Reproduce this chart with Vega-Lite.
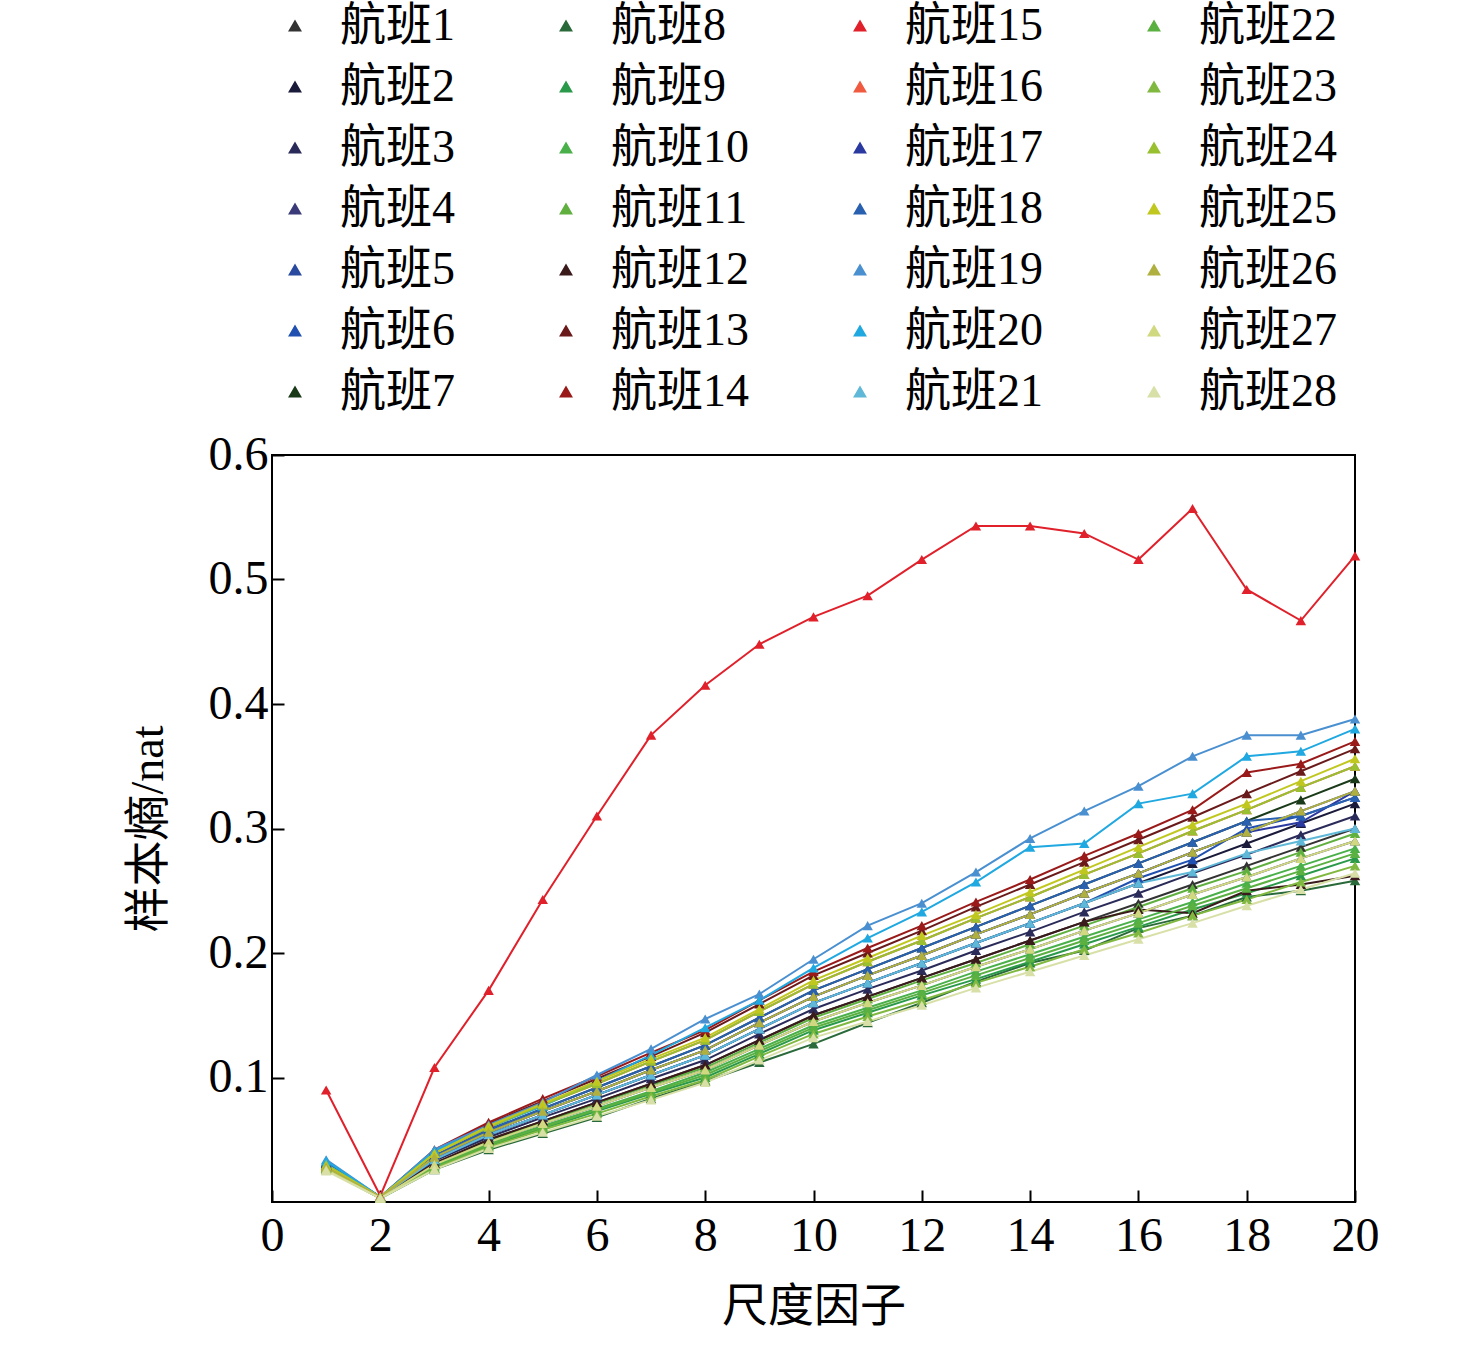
{
  "$schema": "https://vega.github.io/schema/vega-lite/v6.json",
  "width": 1083,
  "height": 747,
  "autosize": "none",
  "padding": {"left": 272, "top": 455, "right": 121, "bottom": 160},
  "background": "white",
  "config": {
    "font": "Liberation Serif, Noto Sans CJK SC",
    "view": {"stroke": "black", "strokeWidth": 2}
  },
  "data": {"values": [
{"s":1,"x":1,"y":0.030},{"s":1,"x":2,"y":0.004},{"s":1,"x":3,"y":0.031},{"s":1,"x":4,"y":0.050},{"s":1,"x":5,"y":0.065},{"s":1,"x":6,"y":0.080},{"s":1,"x":7,"y":0.095},{"s":1,"x":8,"y":0.110},{"s":1,"x":9,"y":0.130},{"s":1,"x":10,"y":0.150},{"s":1,"x":11,"y":0.165},{"s":1,"x":12,"y":0.180},{"s":1,"x":13,"y":0.195},{"s":1,"x":14,"y":0.210},{"s":1,"x":15,"y":0.225},{"s":1,"x":16,"y":0.240},{"s":1,"x":17,"y":0.255},{"s":1,"x":18,"y":0.270},{"s":1,"x":19,"y":0.285},{"s":1,"x":20,"y":0.300},
{"s":2,"x":1,"y":0.028},{"s":2,"x":2,"y":0.004},{"s":2,"x":3,"y":0.034},{"s":2,"x":4,"y":0.054},{"s":2,"x":5,"y":0.070},{"s":2,"x":6,"y":0.086},{"s":2,"x":7,"y":0.102},{"s":2,"x":8,"y":0.118},{"s":2,"x":9,"y":0.139},{"s":2,"x":10,"y":0.160},{"s":2,"x":11,"y":0.176},{"s":2,"x":12,"y":0.192},{"s":2,"x":13,"y":0.208},{"s":2,"x":14,"y":0.224},{"s":2,"x":15,"y":0.240},{"s":2,"x":16,"y":0.256},{"s":2,"x":17,"y":0.272},{"s":2,"x":18,"y":0.288},{"s":2,"x":19,"y":0.304},{"s":2,"x":20,"y":0.320},
{"s":3,"x":1,"y":0.030},{"s":3,"x":2,"y":0.004},{"s":3,"x":3,"y":0.033},{"s":3,"x":4,"y":0.052},{"s":3,"x":5,"y":0.068},{"s":3,"x":6,"y":0.083},{"s":3,"x":7,"y":0.099},{"s":3,"x":8,"y":0.114},{"s":3,"x":9,"y":0.135},{"s":3,"x":10,"y":0.155},{"s":3,"x":11,"y":0.171},{"s":3,"x":12,"y":0.186},{"s":3,"x":13,"y":0.202},{"s":3,"x":14,"y":0.217},{"s":3,"x":15,"y":0.233},{"s":3,"x":16,"y":0.248},{"s":3,"x":17,"y":0.264},{"s":3,"x":18,"y":0.279},{"s":3,"x":19,"y":0.295},{"s":3,"x":20,"y":0.310},
{"s":4,"x":1,"y":0.027},{"s":4,"x":2,"y":0.004},{"s":4,"x":3,"y":0.030},{"s":4,"x":4,"y":0.048},{"s":4,"x":5,"y":0.063},{"s":4,"x":6,"y":0.077},{"s":4,"x":7,"y":0.092},{"s":4,"x":8,"y":0.106},{"s":4,"x":9,"y":0.126},{"s":4,"x":10,"y":0.145},{"s":4,"x":11,"y":0.160},{"s":4,"x":12,"y":0.174},{"s":4,"x":13,"y":0.189},{"s":4,"x":14,"y":0.203},{"s":4,"x":15,"y":0.218},{"s":4,"x":16,"y":0.232},{"s":4,"x":17,"y":0.247},{"s":4,"x":18,"y":0.261},{"s":4,"x":19,"y":0.276},{"s":4,"x":20,"y":0.290},
{"s":5,"x":1,"y":0.032},{"s":5,"x":2,"y":0.004},{"s":5,"x":3,"y":0.036},{"s":5,"x":4,"y":0.056},{"s":5,"x":5,"y":0.073},{"s":5,"x":6,"y":0.089},{"s":5,"x":7,"y":0.106},{"s":5,"x":8,"y":0.122},{"s":5,"x":9,"y":0.144},{"s":5,"x":10,"y":0.165},{"s":5,"x":11,"y":0.182},{"s":5,"x":12,"y":0.198},{"s":5,"x":13,"y":0.215},{"s":5,"x":14,"y":0.231},{"s":5,"x":15,"y":0.248},{"s":5,"x":16,"y":0.264},{"s":5,"x":17,"y":0.281},{"s":5,"x":18,"y":0.297},{"s":5,"x":19,"y":0.314},{"s":5,"x":20,"y":0.330},
{"s":6,"x":1,"y":0.031},{"s":6,"x":2,"y":0.004},{"s":6,"x":3,"y":0.034},{"s":6,"x":4,"y":0.054},{"s":6,"x":5,"y":0.070},{"s":6,"x":6,"y":0.086},{"s":6,"x":7,"y":0.102},{"s":6,"x":8,"y":0.118},{"s":6,"x":9,"y":0.139},{"s":6,"x":10,"y":0.160},{"s":6,"x":11,"y":0.176},{"s":6,"x":12,"y":0.192},{"s":6,"x":13,"y":0.208},{"s":6,"x":14,"y":0.224},{"s":6,"x":15,"y":0.240},{"s":6,"x":16,"y":0.260},{"s":6,"x":17,"y":0.275},{"s":6,"x":18,"y":0.300},{"s":6,"x":19,"y":0.310},{"s":6,"x":20,"y":0.325},
{"s":7,"x":1,"y":0.029},{"s":7,"x":2,"y":0.004},{"s":7,"x":3,"y":0.037},{"s":7,"x":4,"y":0.058},{"s":7,"x":5,"y":0.075},{"s":7,"x":6,"y":0.092},{"s":7,"x":7,"y":0.109},{"s":7,"x":8,"y":0.126},{"s":7,"x":9,"y":0.148},{"s":7,"x":10,"y":0.170},{"s":7,"x":11,"y":0.187},{"s":7,"x":12,"y":0.204},{"s":7,"x":13,"y":0.221},{"s":7,"x":14,"y":0.238},{"s":7,"x":15,"y":0.255},{"s":7,"x":16,"y":0.272},{"s":7,"x":17,"y":0.289},{"s":7,"x":18,"y":0.306},{"s":7,"x":19,"y":0.323},{"s":7,"x":20,"y":0.340},
{"s":8,"x":1,"y":0.026},{"s":8,"x":2,"y":0.003},{"s":8,"x":3,"y":0.026},{"s":8,"x":4,"y":0.042},{"s":8,"x":5,"y":0.055},{"s":8,"x":6,"y":0.068},{"s":8,"x":7,"y":0.083},{"s":8,"x":8,"y":0.097},{"s":8,"x":9,"y":0.112},{"s":8,"x":10,"y":0.127},{"s":8,"x":11,"y":0.144},{"s":8,"x":12,"y":0.160},{"s":8,"x":13,"y":0.177},{"s":8,"x":14,"y":0.192},{"s":8,"x":15,"y":0.202},{"s":8,"x":16,"y":0.220},{"s":8,"x":17,"y":0.230},{"s":8,"x":18,"y":0.245},{"s":8,"x":19,"y":0.250},{"s":8,"x":20,"y":0.258},
{"s":9,"x":1,"y":0.028},{"s":9,"x":2,"y":0.003},{"s":9,"x":3,"y":0.027},{"s":9,"x":4,"y":0.045},{"s":9,"x":5,"y":0.059},{"s":9,"x":6,"y":0.073},{"s":9,"x":7,"y":0.087},{"s":9,"x":8,"y":0.100},{"s":9,"x":9,"y":0.119},{"s":9,"x":10,"y":0.138},{"s":9,"x":11,"y":0.152},{"s":9,"x":12,"y":0.166},{"s":9,"x":13,"y":0.179},{"s":9,"x":14,"y":0.193},{"s":9,"x":15,"y":0.207},{"s":9,"x":16,"y":0.221},{"s":9,"x":17,"y":0.235},{"s":9,"x":18,"y":0.248},{"s":9,"x":19,"y":0.262},{"s":9,"x":20,"y":0.276},
{"s":10,"x":1,"y":0.030},{"s":10,"x":2,"y":0.004},{"s":10,"x":3,"y":0.029},{"s":10,"x":4,"y":0.047},{"s":10,"x":5,"y":0.061},{"s":10,"x":6,"y":0.075},{"s":10,"x":7,"y":0.089},{"s":10,"x":8,"y":0.104},{"s":10,"x":9,"y":0.123},{"s":10,"x":10,"y":0.142},{"s":10,"x":11,"y":0.156},{"s":10,"x":12,"y":0.170},{"s":10,"x":13,"y":0.185},{"s":10,"x":14,"y":0.199},{"s":10,"x":15,"y":0.213},{"s":10,"x":16,"y":0.227},{"s":10,"x":17,"y":0.241},{"s":10,"x":18,"y":0.256},{"s":10,"x":19,"y":0.270},{"s":10,"x":20,"y":0.284},
{"s":11,"x":1,"y":0.027},{"s":11,"x":2,"y":0.004},{"s":11,"x":3,"y":0.030},{"s":11,"x":4,"y":0.049},{"s":11,"x":5,"y":0.064},{"s":11,"x":6,"y":0.079},{"s":11,"x":7,"y":0.094},{"s":11,"x":8,"y":0.108},{"s":11,"x":9,"y":0.128},{"s":11,"x":10,"y":0.148},{"s":11,"x":11,"y":0.163},{"s":11,"x":12,"y":0.178},{"s":11,"x":13,"y":0.192},{"s":11,"x":14,"y":0.207},{"s":11,"x":15,"y":0.222},{"s":11,"x":16,"y":0.237},{"s":11,"x":17,"y":0.252},{"s":11,"x":18,"y":0.266},{"s":11,"x":19,"y":0.281},{"s":11,"x":20,"y":0.296},
{"s":12,"x":1,"y":0.030},{"s":12,"x":2,"y":0.004},{"s":12,"x":3,"y":0.031},{"s":12,"x":4,"y":0.050},{"s":12,"x":5,"y":0.065},{"s":12,"x":6,"y":0.080},{"s":12,"x":7,"y":0.095},{"s":12,"x":8,"y":0.110},{"s":12,"x":9,"y":0.130},{"s":12,"x":10,"y":0.150},{"s":12,"x":11,"y":0.165},{"s":12,"x":12,"y":0.180},{"s":12,"x":13,"y":0.195},{"s":12,"x":14,"y":0.210},{"s":12,"x":15,"y":0.225},{"s":12,"x":16,"y":0.235},{"s":12,"x":17,"y":0.232},{"s":12,"x":18,"y":0.250},{"s":12,"x":19,"y":0.255},{"s":12,"x":20,"y":0.262},
{"s":13,"x":1,"y":0.031},{"s":13,"x":2,"y":0.004},{"s":13,"x":3,"y":0.041},{"s":13,"x":4,"y":0.063},{"s":13,"x":5,"y":0.081},{"s":13,"x":6,"y":0.099},{"s":13,"x":7,"y":0.117},{"s":13,"x":8,"y":0.136},{"s":13,"x":9,"y":0.159},{"s":13,"x":10,"y":0.182},{"s":13,"x":11,"y":0.200},{"s":13,"x":12,"y":0.218},{"s":13,"x":13,"y":0.237},{"s":13,"x":14,"y":0.255},{"s":13,"x":15,"y":0.273},{"s":13,"x":16,"y":0.291},{"s":13,"x":17,"y":0.309},{"s":13,"x":18,"y":0.328},{"s":13,"x":19,"y":0.346},{"s":13,"x":20,"y":0.364},
{"s":14,"x":1,"y":0.030},{"s":14,"x":2,"y":0.004},{"s":14,"x":3,"y":0.042},{"s":14,"x":4,"y":0.064},{"s":14,"x":5,"y":0.083},{"s":14,"x":6,"y":0.101},{"s":14,"x":7,"y":0.120},{"s":14,"x":8,"y":0.138},{"s":14,"x":9,"y":0.162},{"s":14,"x":10,"y":0.185},{"s":14,"x":11,"y":0.204},{"s":14,"x":12,"y":0.222},{"s":14,"x":13,"y":0.241},{"s":14,"x":14,"y":0.259},{"s":14,"x":15,"y":0.278},{"s":14,"x":16,"y":0.296},{"s":14,"x":17,"y":0.315},{"s":14,"x":18,"y":0.345},{"s":14,"x":19,"y":0.352},{"s":14,"x":20,"y":0.370},
{"s":15,"x":1,"y":0.090},{"s":15,"x":2,"y":0.005},{"s":15,"x":3,"y":0.108},{"s":15,"x":4,"y":0.170},{"s":15,"x":5,"y":0.243},{"s":15,"x":6,"y":0.310},{"s":15,"x":7,"y":0.375},{"s":15,"x":8,"y":0.415},{"s":15,"x":9,"y":0.448},{"s":15,"x":10,"y":0.470},{"s":15,"x":11,"y":0.487},{"s":15,"x":12,"y":0.516},{"s":15,"x":13,"y":0.543},{"s":15,"x":14,"y":0.543},{"s":15,"x":15,"y":0.537},{"s":15,"x":16,"y":0.516},{"s":15,"x":17,"y":0.557},{"s":15,"x":18,"y":0.492},{"s":15,"x":19,"y":0.467},{"s":15,"x":20,"y":0.519},
{"s":16,"x":1,"y":0.029},{"s":16,"x":2,"y":0.004},{"s":16,"x":3,"y":0.039},{"s":16,"x":4,"y":0.060},{"s":16,"x":5,"y":0.078},{"s":16,"x":6,"y":0.095},{"s":16,"x":7,"y":0.113},{"s":16,"x":8,"y":0.130},{"s":16,"x":9,"y":0.153},{"s":16,"x":10,"y":0.175},{"s":16,"x":11,"y":0.193},{"s":16,"x":12,"y":0.210},{"s":16,"x":13,"y":0.228},{"s":16,"x":14,"y":0.245},{"s":16,"x":15,"y":0.263},{"s":16,"x":16,"y":0.280},{"s":16,"x":17,"y":0.298},{"s":16,"x":18,"y":0.315},{"s":16,"x":19,"y":0.333},{"s":16,"x":20,"y":0.350},
{"s":17,"x":1,"y":0.031},{"s":17,"x":2,"y":0.004},{"s":17,"x":3,"y":0.036},{"s":17,"x":4,"y":0.056},{"s":17,"x":5,"y":0.073},{"s":17,"x":6,"y":0.089},{"s":17,"x":7,"y":0.106},{"s":17,"x":8,"y":0.122},{"s":17,"x":9,"y":0.144},{"s":17,"x":10,"y":0.165},{"s":17,"x":11,"y":0.182},{"s":17,"x":12,"y":0.198},{"s":17,"x":13,"y":0.215},{"s":17,"x":14,"y":0.231},{"s":17,"x":15,"y":0.248},{"s":17,"x":16,"y":0.264},{"s":17,"x":17,"y":0.281},{"s":17,"x":18,"y":0.297},{"s":17,"x":19,"y":0.305},{"s":17,"x":20,"y":0.330},
{"s":18,"x":1,"y":0.032},{"s":18,"x":2,"y":0.004},{"s":18,"x":3,"y":0.037},{"s":18,"x":4,"y":0.058},{"s":18,"x":5,"y":0.075},{"s":18,"x":6,"y":0.092},{"s":18,"x":7,"y":0.109},{"s":18,"x":8,"y":0.126},{"s":18,"x":9,"y":0.148},{"s":18,"x":10,"y":0.170},{"s":18,"x":11,"y":0.187},{"s":18,"x":12,"y":0.204},{"s":18,"x":13,"y":0.221},{"s":18,"x":14,"y":0.238},{"s":18,"x":15,"y":0.255},{"s":18,"x":16,"y":0.272},{"s":18,"x":17,"y":0.289},{"s":18,"x":18,"y":0.306},{"s":18,"x":19,"y":0.310},{"s":18,"x":20,"y":0.325},
{"s":19,"x":1,"y":0.034},{"s":19,"x":2,"y":0.004},{"s":19,"x":3,"y":0.042},{"s":19,"x":4,"y":0.062},{"s":19,"x":5,"y":0.080},{"s":19,"x":6,"y":0.102},{"s":19,"x":7,"y":0.123},{"s":19,"x":8,"y":0.147},{"s":19,"x":9,"y":0.167},{"s":19,"x":10,"y":0.195},{"s":19,"x":11,"y":0.222},{"s":19,"x":12,"y":0.240},{"s":19,"x":13,"y":0.265},{"s":19,"x":14,"y":0.292},{"s":19,"x":15,"y":0.314},{"s":19,"x":16,"y":0.334},{"s":19,"x":17,"y":0.358},{"s":19,"x":18,"y":0.375},{"s":19,"x":19,"y":0.375},{"s":19,"x":20,"y":0.388},
{"s":20,"x":1,"y":0.033},{"s":20,"x":2,"y":0.004},{"s":20,"x":3,"y":0.041},{"s":20,"x":4,"y":0.060},{"s":20,"x":5,"y":0.077},{"s":20,"x":6,"y":0.097},{"s":20,"x":7,"y":0.118},{"s":20,"x":8,"y":0.140},{"s":20,"x":9,"y":0.162},{"s":20,"x":10,"y":0.188},{"s":20,"x":11,"y":0.212},{"s":20,"x":12,"y":0.233},{"s":20,"x":13,"y":0.257},{"s":20,"x":14,"y":0.285},{"s":20,"x":15,"y":0.288},{"s":20,"x":16,"y":0.320},{"s":20,"x":17,"y":0.328},{"s":20,"x":18,"y":0.358},{"s":20,"x":19,"y":0.362},{"s":20,"x":20,"y":0.380},
{"s":21,"x":1,"y":0.030},{"s":21,"x":2,"y":0.004},{"s":21,"x":3,"y":0.034},{"s":21,"x":4,"y":0.054},{"s":21,"x":5,"y":0.070},{"s":21,"x":6,"y":0.086},{"s":21,"x":7,"y":0.102},{"s":21,"x":8,"y":0.118},{"s":21,"x":9,"y":0.139},{"s":21,"x":10,"y":0.160},{"s":21,"x":11,"y":0.176},{"s":21,"x":12,"y":0.192},{"s":21,"x":13,"y":0.208},{"s":21,"x":14,"y":0.224},{"s":21,"x":15,"y":0.240},{"s":21,"x":16,"y":0.256},{"s":21,"x":17,"y":0.265},{"s":21,"x":18,"y":0.280},{"s":21,"x":19,"y":0.290},{"s":21,"x":20,"y":0.300},
{"s":22,"x":1,"y":0.028},{"s":22,"x":2,"y":0.003},{"s":22,"x":3,"y":0.028},{"s":22,"x":4,"y":0.046},{"s":22,"x":5,"y":0.060},{"s":22,"x":6,"y":0.074},{"s":22,"x":7,"y":0.088},{"s":22,"x":8,"y":0.102},{"s":22,"x":9,"y":0.121},{"s":22,"x":10,"y":0.140},{"s":22,"x":11,"y":0.154},{"s":22,"x":12,"y":0.168},{"s":22,"x":13,"y":0.182},{"s":22,"x":14,"y":0.196},{"s":22,"x":15,"y":0.210},{"s":22,"x":16,"y":0.224},{"s":22,"x":17,"y":0.238},{"s":22,"x":18,"y":0.252},{"s":22,"x":19,"y":0.266},{"s":22,"x":20,"y":0.280},
{"s":23,"x":1,"y":0.027},{"s":23,"x":2,"y":0.003},{"s":23,"x":3,"y":0.027},{"s":23,"x":4,"y":0.044},{"s":23,"x":5,"y":0.058},{"s":23,"x":6,"y":0.071},{"s":23,"x":7,"y":0.085},{"s":23,"x":8,"y":0.098},{"s":23,"x":9,"y":0.117},{"s":23,"x":10,"y":0.135},{"s":23,"x":11,"y":0.149},{"s":23,"x":12,"y":0.162},{"s":23,"x":13,"y":0.176},{"s":23,"x":14,"y":0.189},{"s":23,"x":15,"y":0.203},{"s":23,"x":16,"y":0.216},{"s":23,"x":17,"y":0.230},{"s":23,"x":18,"y":0.243},{"s":23,"x":19,"y":0.257},{"s":23,"x":20,"y":0.270},
{"s":24,"x":1,"y":0.030},{"s":24,"x":2,"y":0.004},{"s":24,"x":3,"y":0.039},{"s":24,"x":4,"y":0.060},{"s":24,"x":5,"y":0.078},{"s":24,"x":6,"y":0.095},{"s":24,"x":7,"y":0.113},{"s":24,"x":8,"y":0.130},{"s":24,"x":9,"y":0.153},{"s":24,"x":10,"y":0.175},{"s":24,"x":11,"y":0.193},{"s":24,"x":12,"y":0.210},{"s":24,"x":13,"y":0.228},{"s":24,"x":14,"y":0.245},{"s":24,"x":15,"y":0.263},{"s":24,"x":16,"y":0.280},{"s":24,"x":17,"y":0.298},{"s":24,"x":18,"y":0.315},{"s":24,"x":19,"y":0.333},{"s":24,"x":20,"y":0.350},
{"s":25,"x":1,"y":0.029},{"s":25,"x":2,"y":0.004},{"s":25,"x":3,"y":0.039},{"s":25,"x":4,"y":0.061},{"s":25,"x":5,"y":0.079},{"s":25,"x":6,"y":0.097},{"s":25,"x":7,"y":0.115},{"s":25,"x":8,"y":0.132},{"s":25,"x":9,"y":0.155},{"s":25,"x":10,"y":0.178},{"s":25,"x":11,"y":0.196},{"s":25,"x":12,"y":0.214},{"s":25,"x":13,"y":0.231},{"s":25,"x":14,"y":0.249},{"s":25,"x":15,"y":0.267},{"s":25,"x":16,"y":0.285},{"s":25,"x":17,"y":0.303},{"s":25,"x":18,"y":0.320},{"s":25,"x":19,"y":0.338},{"s":25,"x":20,"y":0.356},
{"s":26,"x":1,"y":0.028},{"s":26,"x":2,"y":0.004},{"s":26,"x":3,"y":0.036},{"s":26,"x":4,"y":0.056},{"s":26,"x":5,"y":0.073},{"s":26,"x":6,"y":0.089},{"s":26,"x":7,"y":0.106},{"s":26,"x":8,"y":0.122},{"s":26,"x":9,"y":0.144},{"s":26,"x":10,"y":0.165},{"s":26,"x":11,"y":0.182},{"s":26,"x":12,"y":0.198},{"s":26,"x":13,"y":0.215},{"s":26,"x":14,"y":0.231},{"s":26,"x":15,"y":0.248},{"s":26,"x":16,"y":0.264},{"s":26,"x":17,"y":0.281},{"s":26,"x":18,"y":0.297},{"s":26,"x":19,"y":0.314},{"s":26,"x":20,"y":0.330},
{"s":27,"x":1,"y":0.026},{"s":27,"x":2,"y":0.003},{"s":27,"x":3,"y":0.030},{"s":27,"x":4,"y":0.048},{"s":27,"x":5,"y":0.063},{"s":27,"x":6,"y":0.077},{"s":27,"x":7,"y":0.092},{"s":27,"x":8,"y":0.106},{"s":27,"x":9,"y":0.126},{"s":27,"x":10,"y":0.145},{"s":27,"x":11,"y":0.160},{"s":27,"x":12,"y":0.174},{"s":27,"x":13,"y":0.189},{"s":27,"x":14,"y":0.203},{"s":27,"x":15,"y":0.218},{"s":27,"x":16,"y":0.232},{"s":27,"x":17,"y":0.247},{"s":27,"x":18,"y":0.261},{"s":27,"x":19,"y":0.276},{"s":27,"x":20,"y":0.290},
{"s":28,"x":1,"y":0.025},{"s":28,"x":2,"y":0.003},{"s":28,"x":3,"y":0.026},{"s":28,"x":4,"y":0.043},{"s":28,"x":5,"y":0.056},{"s":28,"x":6,"y":0.069},{"s":28,"x":7,"y":0.082},{"s":28,"x":8,"y":0.096},{"s":28,"x":9,"y":0.114},{"s":28,"x":10,"y":0.132},{"s":28,"x":11,"y":0.145},{"s":28,"x":12,"y":0.158},{"s":28,"x":13,"y":0.172},{"s":28,"x":14,"y":0.185},{"s":28,"x":15,"y":0.198},{"s":28,"x":16,"y":0.211},{"s":28,"x":17,"y":0.224},{"s":28,"x":18,"y":0.238},{"s":28,"x":19,"y":0.251},{"s":28,"x":20,"y":0.264}
  ]},
  "mark": {"type": "line", "strokeWidth": 2, "clip": false, "point": {"shape": "triangle-up", "size": 110, "filled": true}},
  "encoding": {
    "x": {"field": "x", "type": "quantitative", "title": "尺度因子",
      "scale": {"domain": [0, 20], "nice": false},
      "axis": {"values": [0,2,4,6,8,10,12,14,16,18,20], "grid": false, "domain": false, "tickSize": -12, "tickWidth": 2, "tickColor": "black", "labelFlush": false,
        "labelFont": "Liberation Serif", "labelFontSize": 48, "labelColor": "black", "labelPadding": 22, "titleFontSize": 46, "titleFontWeight": "normal", "titleColor": "black", "titlePadding": 24}},
    "y": {"field": "y", "type": "quantitative", "title": "样本熵/nat",
      "scale": {"domain": [0, 0.6], "nice": false},
      "axis": {"values": [0.1,0.2,0.3,0.4,0.5,0.6], "format": ".1f", "grid": false, "domain": false, "tickSize": -12, "tickWidth": 2, "tickColor": "black", "labelFlush": false,
        "labelFont": "Liberation Serif", "labelFontSize": 48, "labelColor": "black", "labelPadding": 16, "titleFontSize": 46, "titleFontWeight": "normal", "titleColor": "black", "titlePadding": 36}},
    "color": {"field": "s", "type": "nominal",
      "scale": {
        "domain": [1,2,3,4,5,6,7,8,9,10,11,12,13,14,15,16,17,18,19,20,21,22,23,24,25,26,27,28],
        "range": ["#333333","#1a1a3a","#2b2b5a","#3b3b7a","#2a4aa0","#2050b0","#1a3a1a","#2a6a3a","#2a9a4a","#4ab04a","#60b040","#3a1a1a","#6a1a1a","#9a1a1a","#e0202a","#f05a40","#2a3aa0","#2a60b0","#4a90d0","#20a8e0","#60b8d8","#5ab040","#80b840","#98c030","#c0c820","#b0b040","#d0d880","#d8e0a8"]
      },
      "legend": {"orient": "none", "legendX": 0, "legendY": -452, "columns": 4, "title": null,
        "labelExpr": "'航班' + datum.label", "labelFont": "Liberation Serif, Noto Sans CJK SC", "labelFontSize": 46, "labelColor": "black", "labelLimit": 300,
        "symbolType": "triangle-up", "symbolSize": 110, "symbolStrokeWidth": 2, "rowPadding": 15, "columnPadding": 88, "labelOffset": 22, "gridAlign": "each"}}
  }
}
